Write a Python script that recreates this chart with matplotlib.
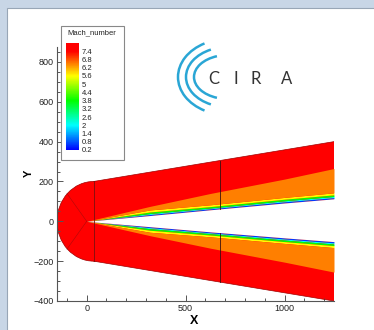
import matplotlib
matplotlib.use("Agg")
import numpy as np
import matplotlib.pyplot as plt
from matplotlib.colors import LinearSegmentedColormap, Normalize
from matplotlib.cm import ScalarMappable
from matplotlib.patches import Ellipse, Polygon, Rectangle, Arc

plt.rcParams['font.family'] = ['Liberation Sans', 'DejaVu Sans']

# legend levels (Mach_number)
levels = [0.2, 0.8, 1.4, 2.0, 2.6, 3.2, 3.8, 4.4, 5.0, 5.6, 6.2, 6.8, 7.4]
level_labels = ["0.2", "0.8", "1.4", "2", "2.6", "3.2", "3.8", "4.4",
                "5", "5.6", "6.2", "6.8", "7.4"]

# stations along the body (x) and band edges (y)
x_st = [0, 320, 626, 1000, 1250]
wall_up = [0, 29, 58, 92, 113]
wall_lo = [0, -27, -53, -83, -102]
red_edge_up = [0, 75, 140, 212, 265]
red_edge_lo = [0, -72, -135, -205, -255]
# boundary layer band thickness above the wall
blue_off = [0, 5, 5, 6, 6]
cyan_off = [0, 10, 9, 11, 12]
green_off = [0, 18, 16, 19, 20]
yellow_off = [0, 28, 25, 28, 30]
band_mach = [0.6, 2.0, 3.8, 5.6, 6.5]   # blue, cyan, green, yellow, orange
free_mach = 7.4

# outer shock boundary and nose
outer_x = [35, 1250]
outer_up = [200, 400]
outer_lo = [-200, -400]
nose_center = (35, 0)
nose_w, nose_h = 370, 400
block_x = [35, 672]

# rainbow map, Tecplot style
cnodes = [0.2, 2.0, 3.8, 5.6, 7.4, 8.0]
ccols = ['#0000ff', '#00ffff', '#00ff00', '#ffff00', '#ff0000', '#ff0000']
norm = Normalize(0.2, 8.0)
cmap = LinearSegmentedColormap.from_list(
    'tec', list(zip([norm(v) for v in cnodes], ccols)))

fig = plt.figure(figsize=(3.74, 3.30), dpi=100, facecolor='#c8d6e6')

bg = fig.add_axes([0, 0, 1, 1])
bg.set_xlim(0, 374)
bg.set_ylim(330, 0)
bg.axis('off')
bg.add_patch(Rectangle((7.5, 7.5), 380, 340, facecolor='white',
                       edgecolor='#98a6b6', lw=0.8))

ax = fig.add_axes([57 / 374, 29 / 330, 277 / 374, 254 / 330])
ax.set_facecolor('none')

red = cmap(norm(free_mach))
ax.add_patch(Ellipse(nose_center, nose_w, nose_h, facecolor=red,
                     edgecolor='#a00000', lw=0.5))
ax.add_patch(Polygon([(outer_x[0], outer_up[0]), (outer_x[1], outer_up[1]),
                      (outer_x[1], outer_lo[1]), (outer_x[0], outer_lo[0])],
                     closed=True, facecolor=red, edgecolor='none'))
ax.plot(outer_x, outer_up, color='#a00000', lw=0.5)
ax.plot(outer_x, outer_lo, color='#a00000', lw=0.5)

x = np.array(x_st)
for wall, sgn, red_edge in [(np.array(wall_up), 1, red_edge_up),
                            (np.array(wall_lo), -1, red_edge_lo)]:
    edges = [wall]
    for off in [blue_off, cyan_off, green_off, yellow_off]:
        edges.append(wall + sgn * np.array(off))
    edges.append(np.array(red_edge))
    for i, m in enumerate(band_mach):
        ax.fill_between(x, edges[i], edges[i + 1], color=cmap(norm(m)),
                        lw=0)
# body
ax.fill_between(x, wall_lo, wall_up, color='white', lw=0)

# block boundaries
lc = '#7a1010'
ax.plot([block_x[0]] * 2, [outer_lo[0], outer_up[0]], color=lc, lw=0.6)
ax.plot([block_x[1]] * 2, [np.interp(block_x[1], x_st, wall_up),
                           np.interp(block_x[1], outer_x, outer_up)],
        color='#3a1010', lw=0.6)
ax.plot([block_x[1]] * 2, [np.interp(block_x[1], x_st, wall_lo),
                           np.interp(block_x[1], outer_x, outer_lo)],
        color='#3a1010', lw=0.6)
ax.plot([0, -100], [0, 140], color=lc, lw=0.4, alpha=0.6)
ax.plot([0, -100], [0, -140], color=lc, lw=0.4, alpha=0.6)

ax.set_xlim(-150, 1250)
ax.set_ylim(-400, 875)
ax.set_xticks([0, 500, 1000])
ax.set_xticks(np.arange(-100, 1250, 100), minor=True)
ax.set_yticks(np.arange(-400, 801, 200))
ax.set_yticks(np.arange(-400, 876, 50), minor=True)
for s in ['top', 'right']:
    ax.spines[s].set_visible(False)
for s in ['left', 'bottom']:
    ax.spines[s].set_color('#555555')
    ax.spines[s].set_linewidth(0.8)
ax.tick_params(which='both', direction='in', color='#555555',
               labelsize=6.5, labelcolor='#222222', width=0.7)
ax.tick_params(which='major', length=4, pad=2.5)
ax.tick_params(which='minor', length=2)
ax.set_xlabel('X', fontsize=9, fontweight='bold')
ax.set_ylabel('Y', fontsize=8, fontweight='bold')
ax.xaxis.set_label_coords(0.495, -0.055)
ax.yaxis.set_label_coords(-0.082, 0.504)

# overlay: legend frame and logo
ov = fig.add_axes([0, 0, 1, 1])
ov.set_xlim(0, 374)
ov.set_ylim(330, 0)
ov.axis('off')
ov.patch.set_alpha(0)
ov.add_patch(Rectangle((61, 26), 63, 134, facecolor='white',
                       edgecolor='#888888', lw=0.8))
ov.text(92, 33, 'Mach_number', fontsize=5.5, ha='center', va='center',
        color='#222222')

logo = '#2aa6d5'
for a, b, t1, t2 in [(50, 38, 125, 235), (42, 30, 122, 238),
                     (34, 22, 118, 242)]:
    ov.add_patch(Arc((228, 77), 2 * a, 2 * b, theta1=t1, theta2=t2,
                     color=logo, lw=1.8))
for ch, cx in zip('CIRA', [214, 236, 256, 287]):
    ov.text(cx, 79, ch, fontsize=12, ha='center', va='center',
            color='#333333', family=['Lato', 'DejaVu Sans'])

cax = fig.add_axes([66 / 374, (330 - 150) / 330, 13 / 374, 107 / 330])
sm = ScalarMappable(norm=norm, cmap=cmap)
cb = fig.colorbar(sm, cax=cax, ticks=levels)
cb.set_ticklabels(level_labels)
cb.outline.set_visible(False)
cax.tick_params(length=0, labelsize=5.5, pad=2, labelcolor='#222222')

fig.savefig('out.png', dpi=100, facecolor=fig.get_facecolor())
